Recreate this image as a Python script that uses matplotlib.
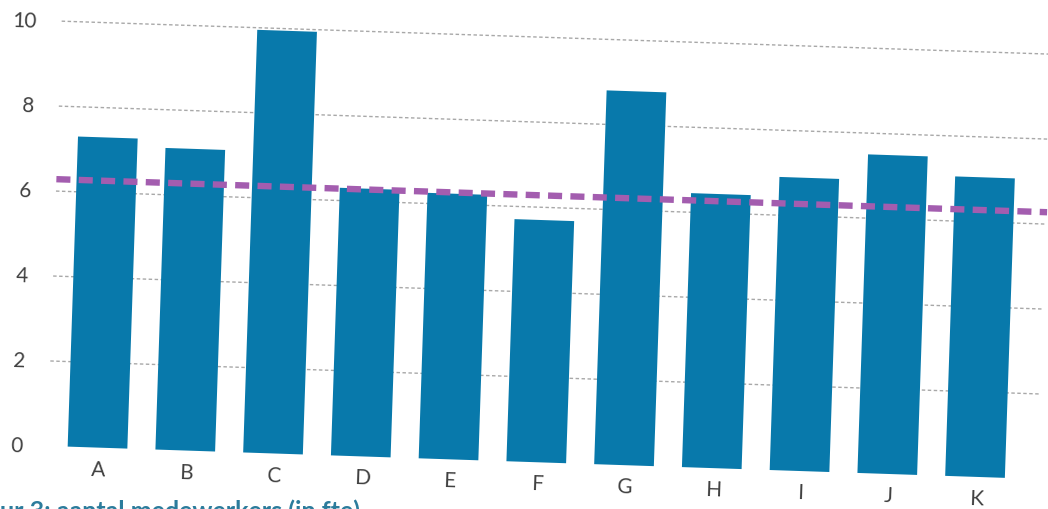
import matplotlib
matplotlib.use("Agg")
import matplotlib.pyplot as plt
from matplotlib.transforms import Affine2D, IdentityTransform

# Data
categories = ["A", "B", "C", "D", "E", "F", "G", "H", "I", "J", "K"]
values = [7.3, 7.1, 9.95, 6.3, 6.25, 5.7, 8.8, 6.45, 6.9, 7.5, 7.05]
reference_level = 6.28
y_ticks = [0, 2, 4, 6, 8, 10]
caption = "ur 3: aantal medewerkers (in fte)"

# Colours and fonts
BAR_COLOR = "#0879AB"
REF_COLOR = "#A35DAF"
GRID_COLOR = "#a8a8a8"
TEXT_COLOR = "#404040"
CAPTION_COLOR = "#2C7C9C"
FONT = ["Lato", "DejaVu Sans"]

W, H, DPI = 1048, 510, 100
fig = plt.figure(figsize=(W / DPI, H / DPI), dpi=DPI)
fig.patch.set_facecolor("white")
ax = fig.add_axes([0, 0, 1, 1])
ax.set_axis_off()

# Pixel layout of the chart frame: first category centre, category pitch,
# baseline height and pixels per value unit; the page is slightly tilted.
x0_px, pitch_px = 97.5, 87.8
base_px, unit_px = 61.4, 42.5
tilt = -1.91

ax.set_xlim(-x0_px / pitch_px, (W - x0_px) / pitch_px)
ax.set_ylim(-base_px / unit_px, (H - base_px) / unit_px)

rot = Affine2D().rotate_deg_around(x0_px, base_px, tilt)
trans = ax.transData + rot

x = list(range(len(categories)))
grid_x = [-0.57, 10.72]

# Dotted horizontal gridlines
for v in y_ticks[1:]:
    ax.plot(grid_x, [v, v], transform=trans, color=GRID_COLOR, lw=1.0,
            ls=(0, (2.5, 1.8)), zorder=1)

# Bars
bars = ax.bar(x, values, width=0.68, color=BAR_COLOR, zorder=2)
for p in bars:
    p.set_transform(trans)

# Dashed reference level
ax.plot(grid_x, [reference_level, reference_level], transform=trans,
        color=REF_COLOR, lw=4.6, dashes=(2.2, 1.3), zorder=3)

# Y tick labels
for v in y_ticks:
    ax.text(-0.854, v, str(v), transform=trans, rotation=tilt,
            rotation_mode="anchor", ha="right", va="center",
            fontsize=15, family=FONT, color=TEXT_COLOR)

# Category labels
for i, c in zip(x, categories):
    ax.text(i + 0.02, -0.5, c, transform=trans, rotation=tilt,
            rotation_mode="anchor", ha="center", va="center",
            fontsize=15, family=FONT, color=TEXT_COLOR)

# Figure caption running off the lower edge of the page
ax.text(0, -9, caption, transform=IdentityTransform(),
        ha="left", va="baseline", fontsize=18, fontweight="bold",
        family=FONT, color=CAPTION_COLOR)

fig.savefig("out.png", dpi=DPI, facecolor="white")
